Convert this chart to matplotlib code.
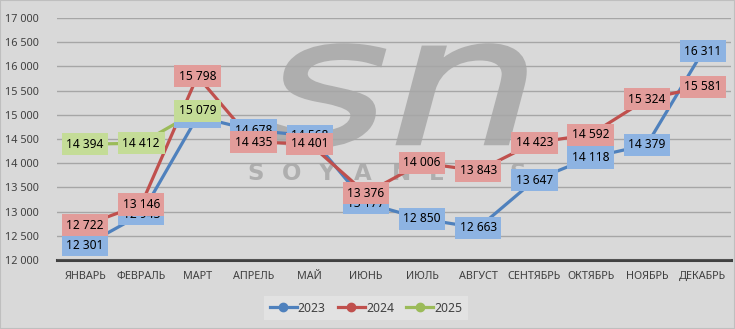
import matplotlib
matplotlib.use("Agg")
import matplotlib.pyplot as plt
from matplotlib.patches import Rectangle, PathPatch
from matplotlib.textpath import TextPath
from matplotlib.font_manager import FontProperties
from matplotlib.transforms import Affine2D
import numpy as np

months = ["ЯНВАРЬ", "ФЕВРАЛЬ", "МАРТ", "АПРЕЛЬ", "МАЙ", "ИЮНЬ", "ИЮЛЬ",
          "АВГУСТ", "СЕНТЯБРЬ", "ОКТЯБРЬ", "НОЯБРЬ", "ДЕКАБРЬ"]
s2023 = [12301, 12943, 14960, 14678, 14568, 13177, 12850, 12663, 13647, 14118, 14379, 16311]
s2024 = [12722, 13146, 15798, 14435, 14401, 13376, 14006, 13843, 14423, 14592, 15324, 15581]
s2025 = [14394, 14412, 15079]
yticks = [12000, 12500, 13000, 13500, 14000, 14500, 15000, 15500, 16000, 16500, 17000]

series = [("2023", s2023, "#4F81BD", "#8DB3E2"),
          ("2024", s2024, "#C0504D", "#E29C9A"),
          ("2025", s2025, "#9BBB59", "#C4DC97")]

plt.rcParams['font.family'] = ['Noto Sans', 'DejaVu Sans']
bg = "#D9D9D9"
W, H = 735, 329
fig = plt.figure(figsize=(W/100, H/100), dpi=100, facecolor=bg)
ax = fig.add_axes([57/W, 1-260/H, (731-57)/W, (260-18)/H])
ax.set_facecolor(bg)

x = np.arange(len(months))
ax.set_xlim(-0.5, len(months)-0.5)
ax.set_ylim(12000, 17000)
ax.set_yticks(yticks)
ax.set_yticklabels([f"{v:,}".replace(",", " ") for v in yticks])
ax.set_xticks(x)
ax.set_xticklabels(months)
ax.tick_params(axis='both', length=0, labelsize=7.8, labelcolor="#404040")
for lab in ax.get_xticklabels() + ax.get_yticklabels():
    lab.set_fontweight('semibold')
ax.tick_params(axis='x', pad=8)
ax.tick_params(axis='y', pad=13)
ax.grid(axis='y', color="#A6A6A6", linewidth=1.0, zorder=0)
for sp in ["top", "right", "left"]:
    ax.spines[sp].set_visible(False)
ax.spines["bottom"].set_color("#404040")
ax.spines["bottom"].set_linewidth(2.2)
ax.spines["bottom"].set_zorder(1)

# watermark "sn" stretched to fit its box (pixels from top-left)
wm_col = "#AEAEAE"
tp = TextPath((0, 0), "sn", size=1,
              prop=FontProperties(family='DejaVu Sans', weight='normal', style='italic'))
ext = tp.get_extents()
bx0, bx1, by0, by1 = 267, 525, 45, 146
sx = (bx1 - bx0) / 100 / ext.width
sy = (by1 - by0) / 100 / ext.height
tr = (Affine2D().translate(-ext.x0, -ext.y0).scale(sx, sy)
      .translate(bx0/100, (H - by1)/100) + fig.dpi_scale_trans)
pp = PathPatch(tp, facecolor=wm_col, edgecolor=wm_col, linewidth=2.5,
               transform=tr, zorder=0.5, clip_on=False)
ax.add_patch(pp)

wm_letters = "SOYANEWS"
wm_px = [256, 292, 326, 363, 402, 437, 480, 518]
for ch, px in zip(wm_letters, wm_px):
    ax.text(px/W, 1-173/H, ch, transform=fig.transFigure, fontsize=16.5,
            fontweight='bold', color=wm_col, ha='center', va='center', zorder=0.5,
            family='DejaVu Sans')

for name, vals, col, boxcol in series:
    xs = x[:len(vals)]
    ax.plot(xs, vals, color=col, linewidth=2.3, marker='o', markersize=9.5,
            markerfacecolor=col, markeredgecolor=col, label=name, zorder=2)

z = 4
for name, vals, col, boxcol in series:
    for xi, v in zip(x[:len(vals)], vals):
        ax.text(xi, v, f"{v:,}".replace(",", " "), ha='center', va='center',
                fontsize=8.6, color="#000000", zorder=z,
                bbox=dict(boxstyle="square,pad=0.38", facecolor=boxcol, edgecolor='none'))
    z += 1

leg = fig.legend(loc='center', bbox_to_anchor=(366/W, 1-308/H), ncol=3, frameon=True,
                 fontsize=8.8, handlelength=2.2, columnspacing=1.0, handletextpad=0.1,
                 borderpad=0.45, fancybox=False)
leg.get_frame().set_facecolor("#E2E2E2")
leg.get_frame().set_edgecolor("none")
leg.get_frame().set_alpha(1)
for line in leg.get_lines():
    line.set_markersize(6)
for t in leg.get_texts():
    t.set_color("#404040")

fig.patches.append(Rectangle((0, 0), 1, 1, transform=fig.transFigure, fill=False,
                             edgecolor="#BFBFBF", linewidth=1.5))
fig.savefig("out.png", dpi=100, facecolor=bg)
